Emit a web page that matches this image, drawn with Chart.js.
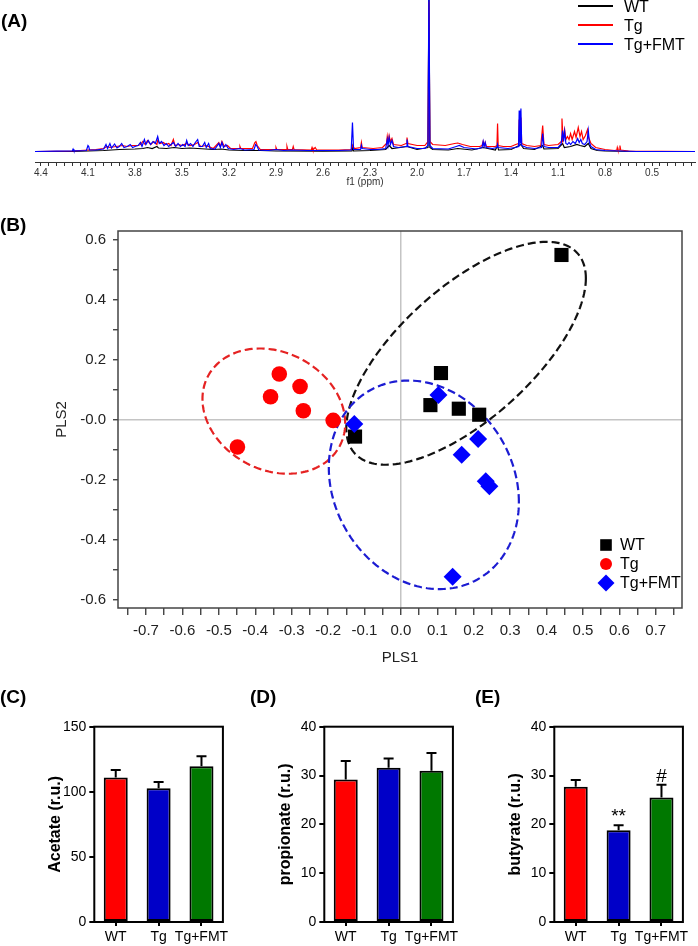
<!DOCTYPE html>
<html lang="en">
<head>
<meta charset="UTF-8">
<title>NMR profile, PLS scores and SCFA levels</title>
<script src="https://cdn.jsdelivr.net/npm/chart.js"></script>
<style>
  body { margin: 0; background: #fff; font-family: Arial, "Liberation Sans", sans-serif; }
  #page { position: relative; width: 698px; height: 946px; overflow: hidden; }
  canvas { position: absolute; }
  .tag { position: absolute; font-weight: bold; font-size: 19px; line-height: 1; color: #000; }
</style>
</head>
<body>
<div id="page">
  <canvas id="specChart" width="698" height="190" style="left:0;top:0"></canvas>
  <canvas id="plsChart" width="698" height="480" style="left:0;top:190px"></canvas>
  <canvas id="acetateChart" width="232" height="266" style="left:0;top:680px"></canvas>
  <canvas id="propionateChart" width="232" height="266" style="left:230px;top:680px"></canvas>
  <canvas id="butyrateChart" width="232" height="266" style="left:460px;top:680px"></canvas>
  <div class="tag" style="left:1px;top:11px">(A)</div>
  <div class="tag" style="left:0;top:215px">(B)</div>
  <div class="tag" style="left:0;top:687px">(C)</div>
  <div class="tag" style="left:250px;top:687px">(D)</div>
  <div class="tag" style="left:475px;top:687px">(E)</div>
</div>
<script>
const groups = ['WT', 'Tg', 'Tg+FMT'];
const groupColors = ['#000000', '#ff0000', '#0000ff'];

// (A) 1H NMR spectra, [ppm, intensity]
const specWT = [[4.438,0],[4.2,0],[4.1,0.5],[4.0,1],[3.9,2],[3.8,2.5],[3.75,3],[3.72,4],[3.69,3],[3.66,5],[3.65,3.5],[3.6,3],[3.55,4],[3.5,3],[3.45,3.5],[3.4,3],[3.35,2.5],[3.3,2],[3.25,2.5],[3.2,1.5],[3.1,1],[3.0,1],[2.9,0.5],[2.6,0.3],[2.415,0.5],[2.41,5],[2.405,0.5],[2.3,1],[2.2,2],[2.178,6],[2.16,3],[2.064,5],[2.0,2],[1.93,4],[1.924,160],[1.918,4],[1.9,2],[1.8,1.5],[1.74,3],[1.65,1.5],[1.578,4],[1.5,1.5],[1.486,6],[1.48,1.5],[1.4,2],[1.348,6],[1.337,7],[1.32,3],[1.25,2],[1.198,6],[1.19,2.5],[1.1,3],[1.071,8],[1.06,4],[1.02,5],[0.98,7],[0.96,6],[0.93,5],[0.907,8],[0.89,3],[0.85,1],[0.8,0.5],[0.6,0],[0.226,0]];
const specTg = [[4.438,0],[4.2,0.5],[4.10,1.5],[4.05,2],[4.0,3],[3.98,5],[3.96,4],[3.92,5],[3.88,6],[3.85,5],[3.82,6],[3.78,6],[3.765,7],[3.75,10],[3.735,7],[3.72,11],[3.70,7],[3.68,10],[3.66,7],[3.655,11],[3.64,8],[3.62,9],[3.60,7],[3.585,8],[3.57,6],[3.555,12],[3.545,6],[3.52,7],[3.50,6],[3.47,8],[3.45,6],[3.42,7],[3.40,9],[3.38,5],[3.35,6],[3.33,5],[3.30,3],[3.265,9],[3.255,5],[3.245,10],[3.23,5],[3.21,6],[3.19,3],[3.135,3],[3.13,5],[3.125,3],[3.05,3],[3.035,9],[3.028,10],[3.02,6],[3.0,2],[2.905,2],[2.90,4],[2.895,2],[2.835,2],[2.83,5],[2.825,2],[2.795,2],[2.79,5],[2.785,2],[2.675,1.5],[2.67,4],[2.665,1.5],[2.65,4],[2.64,1.5],[2.50,1.5],[2.42,2],[2.41,6],[2.40,3],[2.36,4],[2.355,9],[2.35,4],[2.28,3],[2.22,4],[2.195,8],[2.19,15],[2.185,9],[2.178,16],[2.17,10],[2.16,13],[2.15,7],[2.10,6],[2.07,8],[2.064,14],[2.058,8],[2.00,6],[1.95,6],[1.93,10],[1.924,150],[1.918,10],[1.90,7],[1.82,6],[1.76,8],[1.74,8.5],[1.71,7],[1.66,5],[1.60,5],[1.585,6],[1.578,10],[1.572,6],[1.565,9],[1.558,5],[1.50,5],[1.49,6],[1.486,28],[1.482,6],[1.45,5],[1.40,5],[1.37,7],[1.352,8],[1.348,32],[1.343,10],[1.341,10],[1.337,34],[1.332,8],[1.30,6],[1.25,5],[1.21,6],[1.198,26],[1.19,7],[1.16,6],[1.10,7],[1.08,10],[1.075,33],[1.068,12],[1.058,22],[1.05,12],[1.04,15],[1.03,12],[1.02,18],[1.01,12],[0.995,20],[0.985,14],[0.971,24],[0.96,15],[0.95,20],[0.94,12],[0.925,16],[0.912,22],[0.905,14],[0.89,8],[0.86,4],[0.80,2],[0.74,1],[0.725,1.5],[0.722,4],[0.718,1.5],[0.708,1.5],[0.705,6],[0.70,1.5],[0.65,0.5],[0.226,0]];
const specTgFMT = [[4.438,0],[4.30,0.3],[4.20,0.5],[4.195,2.5],[4.19,0.6],[4.11,1],[4.10,6],[4.095,5],[4.09,1.5],[4.05,1.5],[4.00,2.5],[3.985,7],[3.975,3],[3.96,8],[3.95,3.5],[3.93,7.5],[3.915,3.5],[3.90,5],[3.885,8],[3.87,4],[3.85,5],[3.83,7],[3.815,4],[3.80,5],[3.78,6],[3.765,9],[3.755,5],[3.74,12],[3.73,7],[3.715,11],[3.70,7],[3.685,10],[3.67,8],[3.655,15],[3.645,8],[3.63,10],[3.615,6],[3.60,8],[3.585,5],[3.57,7],[3.555,9],[3.54,5],[3.525,8],[3.51,5],[3.495,7],[3.48,5],[3.47,11],[3.46,6],[3.445,8],[3.43,5],[3.415,9],[3.40,12],[3.39,5],[3.37,5],[3.355,9],[3.345,4],[3.33,8],[3.32,3],[3.29,2.5],[3.265,8],[3.255,4],[3.245,9],[3.235,4],[3.22,7],[3.205,3],[3.17,2],[3.13,3],[3.10,1.5],[3.04,2],[3.03,7],[3.02,5],[3.01,1.5],[2.95,1],[2.90,2],[2.85,1],[2.80,1.5],[2.70,1],[2.60,1],[2.50,1],[2.42,1.5],[2.412,29],[2.405,2],[2.36,2],[2.355,6],[2.35,3],[2.30,2],[2.25,2],[2.20,3],[2.19,12],[2.185,6],[2.178,14],[2.17,7],[2.16,11],[2.15,5],[2.12,4],[2.07,5],[2.064,12],[2.058,5],[2.00,3],[1.95,3],[1.93,6],[1.924,170],[1.918,6],[1.90,3],[1.80,2.5],[1.75,5],[1.73,6],[1.70,4],[1.62,2.5],[1.585,4],[1.578,10],[1.572,5],[1.565,9],[1.558,4],[1.52,3],[1.49,4],[1.486,7],[1.482,4],[1.42,3],[1.37,4],[1.352,5],[1.348,41],[1.343,8],[1.341,9],[1.337,43],[1.332,6],[1.30,4],[1.25,3],[1.205,4],[1.198,18],[1.19,5],[1.16,4],[1.10,4],[1.08,8],[1.071,21],[1.065,10],[1.058,20],[1.05,8],[1.04,7],[1.03,9],[1.02,7],[1.005,10],[0.99,8],[0.975,13],[0.965,9],[0.955,12],[0.945,8],[0.93,7],[0.915,10],[0.907,21],[0.90,9],[0.89,5],[0.86,2],[0.80,1],[0.70,0.5],[0.60,0],[0.226,0]];
const ppmLabels = ['4.4','4.1','3.8','3.5','3.2','2.9','2.6','2.3','2.0','1.7','1.4','1.1','0.8','0.5'];

// (B) PLS scores, [PLS1, PLS2]
const plsWT = [[0.441,0.550],[0.110,0.156],[0.081,0.049],[0.159,0.037],[0.215,0.017],[-0.126,-0.056]];
const plsTg = [[-0.334,0.153],[-0.277,0.111],[-0.358,0.077],[-0.268,0.030],[-0.186,-0.002],[-0.449,-0.091]];
const plsTgFMT = [[0.103,0.083],[-0.128,-0.014],[0.212,-0.064],[0.167,-0.117],[0.233,-0.205],[0.243,-0.222],[0.142,-0.524]];
// confidence ellipses: centre, half-extents and correlation, per group
const ellipseCx = [0.179, -0.349, 0.063];
const ellipseCy = [0.222, 0.029, -0.217];
const ellipseRx = [0.329, 0.196, 0.261];
const ellipseRy = [0.372, 0.209, 0.348];
const ellipseRho = [0.672, -0.195, -0.165];
const ellipseColors = ['#111111', '#e52222', '#1c1cd2'];
const plsXLabels = ['-0.7','-0.6','-0.5','-0.4','-0.3','-0.2','-0.1','0.0','0.1','0.2','0.3','0.4','0.5','0.6','0.7'];
const plsYLabels = ['-0.6','-0.4','-0.2','-0.0','0.2','0.4','0.6'];

// (C-E) short chain fatty acids, mean and SEM
const acetate = [110.9, 102.7, 119.6];
const acetateErr = [5.9, 4.9, 7.7];
const propionate = [29.2, 31.6, 31.0];
const propionateErr = [3.8, 1.9, 3.6];
const butyrate = [27.7, 18.8, 25.5];
const butyrateErr = [1.4, 1.0, 2.6];
const butyrateSig = ['', '**', '#'];
const barColors = ['#ff0000', '#0000c8', '#007800'];

Chart.defaults.font.family = 'Arial, "Liberation Sans", sans-serif';
Chart.defaults.color = '#000';

const findLabel = (labels, v) => labels.find(l => Math.abs(parseFloat(l) - v) < 1e-6) || '';

// ---------- (A) spectrum ----------
const ppmTicks = [];
for (let i = 5; i <= 88; i++) ppmTicks.push(i / 20);

const specLegend = {
  id: 'specLegend',
  afterDraw(chart) {
    const ctx = chart.ctx;
    ctx.save();
    ctx.font = '16px Arial, "Liberation Sans", sans-serif';
    ctx.textBaseline = 'middle';
    [7, 26, 45].forEach((y, i) => {
      ctx.strokeStyle = groupColors[i];
      ctx.lineWidth = 2;
      ctx.beginPath(); ctx.moveTo(578, y - 1); ctx.lineTo(613, y - 1); ctx.stroke();
      ctx.fillStyle = '#000';
      ctx.fillText(groups[i], 624, y + 1);
    });
    ctx.restore();
  }
};

new Chart(document.getElementById('specChart'), {
  type: 'line',
  data: {
    datasets: [
      { label: 'WT', data: specWT, borderColor: groupColors[0], order: 2 },
      { label: 'Tg', data: specTg, borderColor: groupColors[1], order: 1 },
      { label: 'Tg+FMT', data: specTgFMT, borderColor: groupColors[2], order: 0 }
    ]
  },
  options: {
    responsive: false, animation: false, devicePixelRatio: 1, events: [],
    layout: { padding: { left: 35, right: 3, top: 0, bottom: 0 } },
    elements: { point: { radius: 0 }, line: { borderWidth: 1.2, tension: 0 } },
    plugins: { legend: { display: false }, tooltip: { enabled: false } },
    scales: {
      x: {
        type: 'linear', reverse: true, min: 0.226, max: 4.438,
        afterBuildTicks: s => { s.ticks = ppmTicks.map(v => ({ value: v })); },
        afterFit: s => { s.height = 28; },
        ticks: { autoSkip: false, maxRotation: 0, font: { size: 10 }, color: '#333', padding: 1,
                 callback: v => findLabel(ppmLabels, v) },
        grid: { drawOnChartArea: false, tickLength: 4, color: '#333' },
        border: { display: true, color: '#333', width: 1 },
        title: { display: true, text: 'f1 (ppm)', font: { size: 10 }, color: '#333', padding: { top: 0, bottom: 2 } }
      },
      y: { display: false, min: -10.5, max: 151.5 }
    }
  },
  plugins: [specLegend]
});

// ---------- (B) PLS scores ----------
const plsXTicks = [], plsYTicks = [];
for (let i = -15; i <= 15; i++) plsXTicks.push(i / 20);
for (let i = -6; i <= 6; i++) plsYTicks.push(i / 10);

const ellipsePlugin = {
  id: 'ellipses',
  beforeDatasetsDraw(chart) {
    const { ctx, chartArea: a, scales: { x, y } } = chart;
    ctx.save();
    ctx.beginPath(); ctx.rect(a.left, a.top, a.width, a.height); ctx.clip();
    ctx.setLineDash([8, 4]);
    ctx.lineWidth = 2.2;
    ellipseCx.forEach((cx, i) => {
      const c = Math.sqrt(1 - ellipseRho[i] * ellipseRho[i]);
      ctx.beginPath();
      for (let k = 0; k <= 180; k++) {
        const t = k / 180 * 2 * Math.PI;
        const px = x.getPixelForValue(cx + ellipseRx[i] * Math.cos(t));
        const py = y.getPixelForValue(ellipseCy[i] + ellipseRy[i] * (ellipseRho[i] * Math.cos(t) + c * Math.sin(t)));
        if (k) ctx.lineTo(px, py); else ctx.moveTo(px, py);
      }
      ctx.closePath();
      ctx.strokeStyle = ellipseColors[i];
      ctx.stroke();
    });
    ctx.restore();
  }
};

const plsFrame = {
  id: 'plsFrame',
  afterDraw(chart) {
    const { ctx, chartArea: a } = chart;
    ctx.save();
    ctx.strokeStyle = '#444';
    ctx.lineWidth = 1.5;
    ctx.strokeRect(a.left, a.top, a.width, a.height);
    // legend
    ctx.font = '16px Arial, "Liberation Sans", sans-serif';
    ctx.textBaseline = 'middle';
    const mx = a.right - 76, tx = a.right - 62;
    const rows = [a.bottom - 63, a.bottom - 44, a.bottom - 25];
    ctx.fillStyle = groupColors[0];
    ctx.fillRect(mx - 5.8, rows[0] - 5.8, 11.6, 11.6);
    ctx.fillStyle = groupColors[1];
    ctx.beginPath(); ctx.arc(mx, rows[1], 6, 0, 2 * Math.PI); ctx.fill();
    ctx.fillStyle = groupColors[2];
    ctx.beginPath();
    ctx.moveTo(mx, rows[2] - 8.5); ctx.lineTo(mx + 8.5, rows[2]);
    ctx.lineTo(mx, rows[2] + 8.5); ctx.lineTo(mx - 8.5, rows[2]);
    ctx.closePath(); ctx.fill();
    ctx.fillStyle = '#000';
    rows.forEach((y, i) => ctx.fillText(groups[i], tx, y + 1));
    ctx.restore();
  }
};

const zeroLine = c => (c.tick && Math.abs(c.tick.value) < 1e-9) ? '#c4c4c4' : 'rgba(0,0,0,0)';
const toXY = arr => arr.map(([x, y]) => ({ x, y }));

new Chart(document.getElementById('plsChart'), {
  type: 'scatter',
  data: {
    datasets: [
      { label: 'WT', data: toXY(plsWT), pointStyle: 'rect', pointRadius: 10, backgroundColor: groupColors[0], borderWidth: 0, order: 2 },
      { label: 'Tg', data: toXY(plsTg), pointStyle: 'circle', pointRadius: 7.8, backgroundColor: groupColors[1], borderWidth: 0, order: 1 },
      { label: 'Tg+FMT', data: toXY(plsTgFMT), pointStyle: 'rectRot', pointRadius: 9, backgroundColor: groupColors[2], borderWidth: 0, order: 0 }
    ]
  },
  options: {
    responsive: false, animation: false, devicePixelRatio: 1, events: [],
    layout: { padding: { left: 0, right: 16, top: 41, bottom: 0 } },
    plugins: { legend: { display: false }, tooltip: { enabled: false } },
    scales: {
      x: {
        type: 'linear', min: -0.777, max: 0.772,
        afterBuildTicks: s => { s.ticks = plsXTicks.map(v => ({ value: v })); },
        afterFit: s => { s.height = 62; },
        ticks: { autoSkip: false, maxRotation: 0, font: { size: 15 }, color: '#222', padding: 7,
                 callback: v => findLabel(plsXLabels, v) },
        grid: { color: zeroLine, lineWidth: 1.5, tickColor: '#333', tickWidth: 1.3, tickLength: 7 },
        border: { display: false },
        title: { display: true, text: 'PLS1', font: { size: 15 }, color: '#222', padding: { top: 0, bottom: 3 } }
      },
      y: {
        type: 'linear', min: -0.628, max: 0.63,
        afterBuildTicks: s => { s.ticks = plsYTicks.map(v => ({ value: v })); },
        afterFit: s => { s.width = 118; },
        ticks: { autoSkip: false, font: { size: 15 }, color: '#222', padding: 7,
                 callback: v => findLabel(plsYLabels, v) },
        grid: { color: zeroLine, lineWidth: 1.5, tickColor: '#333', tickWidth: 1.3, tickLength: 5 },
        border: { display: false },
        title: { display: true, text: 'PLS2', font: { size: 15 }, color: '#222', padding: { top: 53, bottom: 0 } }
      }
    }
  },
  plugins: [ellipsePlugin, plsFrame]
});

// ---------- (C-E) bar charts ----------
function barChart(id, values, errs, yMax, yStep, title, marks) {
  const extras = {
    id: 'extras',
    afterDatasetsDraw(chart) {
      const { ctx, chartArea: a, scales: { x, y } } = chart;
      ctx.save();
      ctx.strokeStyle = '#000';
      ctx.lineWidth = 2;
      values.forEach((v, i) => {
        const px = x.getPixelForValue(i);
        const top = y.getPixelForValue(v + errs[i]);
        ctx.beginPath();
        ctx.moveTo(px, y.getPixelForValue(v)); ctx.lineTo(px, top);
        ctx.moveTo(px - 5, top); ctx.lineTo(px + 5, top);
        ctx.stroke();
        if (marks && marks[i]) {
          ctx.fillStyle = '#000';
          ctx.font = '19px Arial, "Liberation Sans", sans-serif';
          ctx.textAlign = 'center';
          ctx.textBaseline = 'alphabetic';
          ctx.fillText(marks[i], px, top - 3);
        }
      });
      ctx.strokeRect(a.left, a.top, a.width, a.height);
      ctx.restore();
    }
  };
  return new Chart(document.getElementById(id), {
    type: 'bar',
    data: {
      labels: groups,
      datasets: [{
        data: values, backgroundColor: barColors, borderColor: '#000', borderWidth: 2,
        borderSkipped: false, barPercentage: 0.56, categoryPercentage: 1
      }]
    },
    options: {
      responsive: false, animation: false, devicePixelRatio: 1, events: [],
      layout: { padding: { left: 0, right: 5.3, top: 46.7, bottom: 0 } },
      plugins: { legend: { display: false }, tooltip: { enabled: false } },
      scales: {
        x: {
          afterFit: s => { s.height = 24; },
          ticks: { autoSkip: false, font: { size: 14 }, color: '#000', padding: 3, maxRotation: 0 },
          grid: { drawOnChartArea: false, offset: false, tickLength: 4, color: '#000', lineWidth: 2 },
          border: { display: false }
        },
        y: {
          min: 0, max: yMax,
          afterFit: s => { s.width = 94.3; },
          ticks: { stepSize: yStep, font: { size: 14 }, color: '#000', padding: 3 },
          grid: { drawOnChartArea: false, tickLength: 5, color: '#000', lineWidth: 2 },
          border: { display: false },
          title: { display: true, text: title, font: { size: 16, weight: 'bold' }, color: '#000', padding: { top: 46, bottom: 0 } }
        }
      }
    },
    plugins: [extras]
  });
}

barChart('acetateChart', acetate, acetateErr, 150, 50, 'Acetate (r.u.)');
barChart('propionateChart', propionate, propionateErr, 40, 10, 'propionate (r.u.)');
barChart('butyrateChart', butyrate, butyrateErr, 40, 10, 'butyrate (r.u.)', butyrateSig);
</script>
</body>
</html>
